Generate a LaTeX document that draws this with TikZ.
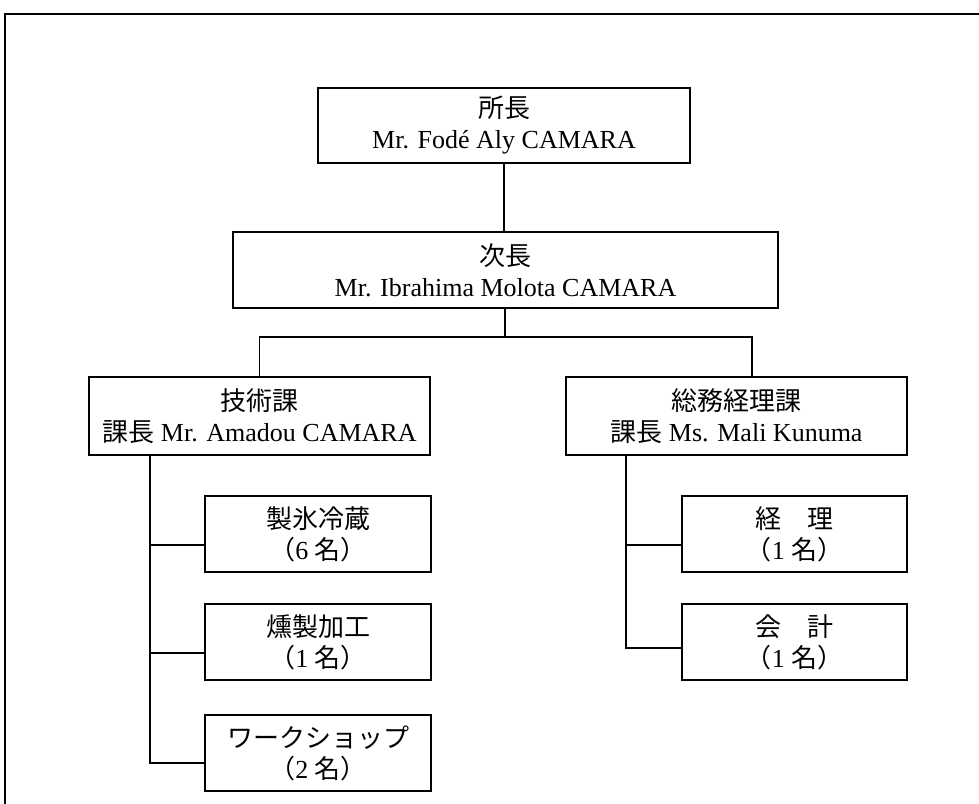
\documentclass[tikz,border=0pt]{standalone}
\usepackage{fontspec}
\setmainfont{Liberation Serif}
\newfontfamily\jp{Noto Sans CJK JP}
\usetikzlibrary{calc}
\tikzset{
  box/.style={draw, line width=2.4pt, inner sep=0pt, align=center,
    font=\fontsize{26}{31}\selectfont},
  conn/.style={draw, line width=1.5pt},
  frame/.style={draw, line width=2.2pt}
}
\begin{document}
\begin{tikzpicture}[x=1pt,y=-1pt]
\clip (0,0) rectangle (979,803);
\fill[white] (0,0) rectangle (979,803);
\draw[frame] (5,14) rectangle (1000,830);
% boxes
\node[box, minimum width=372pt, minimum height=75pt] (shocho) at (504,125.5)
  {{\jp 所長}\\Mr. Fodé Aly CAMARA};
\node[box, minimum width=545pt, minimum height=76pt] (jicho) at (505.5,270)
  {{\jp 次長}\\Mr. Ibrahima Molota CAMARA};
\node[box, minimum width=341pt, minimum height=78pt] (gijutsu) at (259.5,416)
  {{\jp 技術課}\\{\jp 課長} Mr. Amadou CAMARA};
\node[box, minimum width=341pt, minimum height=78pt] (somu) at (736.5,416)
  {{\jp 総務経理課}\\{\jp 課長} Ms. Mali Kunuma};
\node[box, minimum width=226pt, minimum height=76pt] (seihyo) at (318,534)
  {{\jp 製氷冷蔵}\\{\jp （}6 {\jp 名）}};
\node[box, minimum width=226pt, minimum height=76pt] (kunsei) at (318,642)
  {{\jp 燻製加工}\\{\jp （}1 {\jp 名）}};
\node[box, minimum width=226pt, minimum height=76pt] (ws) at (318,753)
  {{\jp ワークショップ}\\{\jp （}2 {\jp 名）}};
\node[box, minimum width=225pt, minimum height=76pt] (keiri) at (794.5,534)
  {{\jp 経　理}\\{\jp （}1 {\jp 名）}};
\node[box, minimum width=225pt, minimum height=76pt] (kaikei) at (794.5,642)
  {{\jp 会　計}\\{\jp （}1 {\jp 名）}};
% connectors
\draw[conn] (shocho.south) -- (shocho.south |- jicho.north);
\coordinate (hb) at (505,337);
\draw[conn] (jicho.south -| hb) -- (hb);
\coordinate (gr) at (752,0);
\draw[conn] (gijutsu.north) |- (hb) -| (somu.north -| gr);
\coordinate (L) at (150,0);
\draw[conn] (gijutsu.south -| L) |- ($(ws.west)+(0,10)$);
\draw[conn] (L |- 0,545) -- ($(seihyo.west)+(0,11)$);
\draw[conn] (L |- 0,653) -- ($(kunsei.west)+(0,11)$);
\coordinate (R) at (626,0);
\draw[conn] (somu.south -| R) |- ($(kaikei.west)+(0,6)$);
\draw[conn] (R |- 0,545) -- ($(keiri.west)+(0,11)$);
\end{tikzpicture}
\end{document}
